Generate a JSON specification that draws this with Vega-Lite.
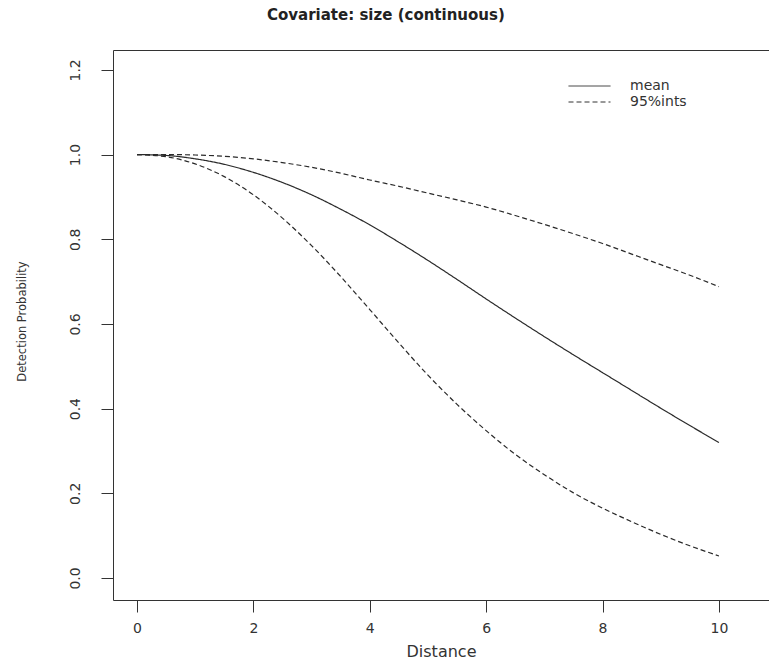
{
  "$schema": "https://vega.github.io/schema/vega-lite/v6.json",
  "autosize": "none",
  "width": 656,
  "height": 550,
  "padding": {"left": 113, "top": 50, "right": 0, "bottom": 64},
  "background": "white",
  "config": {
    "view": {"stroke": null},
    "font": "DejaVu Sans",
    "axis": {"grid": false, "domainColor": "#333", "tickColor": "#333", "labelColor": "#333", "titleColor": "#333", "labelFont": "DejaVu Sans", "titleFont": "DejaVu Sans", "titleFontWeight": "normal"}
  },
  "title": {"text": "Covariate: size (continuous)", "anchor": "start", "frame": "group", "dx": 154, "offset": 27, "fontSize": 15, "fontWeight": "bold", "font": "DejaVu Sans", "color": "#222"},
  "datasets": {
    "curves": [
      {"x": 0, "p": 1.0, "curve": "mean", "type": "mean"},
      {"x": 0.5, "p": 0.998, "curve": "mean", "type": "mean"},
      {"x": 1, "p": 0.99, "curve": "mean", "type": "mean"},
      {"x": 1.5, "p": 0.977, "curve": "mean", "type": "mean"},
      {"x": 2, "p": 0.958, "curve": "mean", "type": "mean"},
      {"x": 2.5, "p": 0.934, "curve": "mean", "type": "mean"},
      {"x": 3, "p": 0.905, "curve": "mean", "type": "mean"},
      {"x": 3.5, "p": 0.871, "curve": "mean", "type": "mean"},
      {"x": 4, "p": 0.834, "curve": "mean", "type": "mean"},
      {"x": 4.5, "p": 0.793, "curve": "mean", "type": "mean"},
      {"x": 5, "p": 0.75, "curve": "mean", "type": "mean"},
      {"x": 5.5, "p": 0.705, "curve": "mean", "type": "mean"},
      {"x": 6, "p": 0.659, "curve": "mean", "type": "mean"},
      {"x": 6.5, "p": 0.614, "curve": "mean", "type": "mean"},
      {"x": 7, "p": 0.57, "curve": "mean", "type": "mean"},
      {"x": 7.5, "p": 0.527, "curve": "mean", "type": "mean"},
      {"x": 8, "p": 0.485, "curve": "mean", "type": "mean"},
      {"x": 8.5, "p": 0.443, "curve": "mean", "type": "mean"},
      {"x": 9, "p": 0.401, "curve": "mean", "type": "mean"},
      {"x": 9.5, "p": 0.36, "curve": "mean", "type": "mean"},
      {"x": 10, "p": 0.32, "curve": "mean", "type": "mean"},
      {"x": 0, "p": 1.0, "curve": "upper", "type": "95%ints"},
      {"x": 0.5, "p": 1.0, "curve": "upper", "type": "95%ints"},
      {"x": 1, "p": 0.999, "curve": "upper", "type": "95%ints"},
      {"x": 1.5, "p": 0.996, "curve": "upper", "type": "95%ints"},
      {"x": 2, "p": 0.99, "curve": "upper", "type": "95%ints"},
      {"x": 2.5, "p": 0.981, "curve": "upper", "type": "95%ints"},
      {"x": 3, "p": 0.97, "curve": "upper", "type": "95%ints"},
      {"x": 3.5, "p": 0.956, "curve": "upper", "type": "95%ints"},
      {"x": 4, "p": 0.94, "curve": "upper", "type": "95%ints"},
      {"x": 4.5, "p": 0.925, "curve": "upper", "type": "95%ints"},
      {"x": 5, "p": 0.909, "curve": "upper", "type": "95%ints"},
      {"x": 5.5, "p": 0.893, "curve": "upper", "type": "95%ints"},
      {"x": 6, "p": 0.876, "curve": "upper", "type": "95%ints"},
      {"x": 6.5, "p": 0.856, "curve": "upper", "type": "95%ints"},
      {"x": 7, "p": 0.835, "curve": "upper", "type": "95%ints"},
      {"x": 7.5, "p": 0.813, "curve": "upper", "type": "95%ints"},
      {"x": 8, "p": 0.79, "curve": "upper", "type": "95%ints"},
      {"x": 8.5, "p": 0.765, "curve": "upper", "type": "95%ints"},
      {"x": 9, "p": 0.74, "curve": "upper", "type": "95%ints"},
      {"x": 9.5, "p": 0.715, "curve": "upper", "type": "95%ints"},
      {"x": 10, "p": 0.688, "curve": "upper", "type": "95%ints"},
      {"x": 0, "p": 1.0, "curve": "lower", "type": "95%ints"},
      {"x": 0.5, "p": 0.995, "curve": "lower", "type": "95%ints"},
      {"x": 1, "p": 0.978, "curve": "lower", "type": "95%ints"},
      {"x": 1.5, "p": 0.948, "curve": "lower", "type": "95%ints"},
      {"x": 2, "p": 0.905, "curve": "lower", "type": "95%ints"},
      {"x": 2.5, "p": 0.85, "curve": "lower", "type": "95%ints"},
      {"x": 3, "p": 0.785, "curve": "lower", "type": "95%ints"},
      {"x": 3.5, "p": 0.712, "curve": "lower", "type": "95%ints"},
      {"x": 4, "p": 0.634, "curve": "lower", "type": "95%ints"},
      {"x": 4.5, "p": 0.555, "curve": "lower", "type": "95%ints"},
      {"x": 5, "p": 0.479, "curve": "lower", "type": "95%ints"},
      {"x": 5.5, "p": 0.41, "curve": "lower", "type": "95%ints"},
      {"x": 6, "p": 0.348, "curve": "lower", "type": "95%ints"},
      {"x": 6.5, "p": 0.292, "curve": "lower", "type": "95%ints"},
      {"x": 7, "p": 0.244, "curve": "lower", "type": "95%ints"},
      {"x": 7.5, "p": 0.201, "curve": "lower", "type": "95%ints"},
      {"x": 8, "p": 0.165, "curve": "lower", "type": "95%ints"},
      {"x": 8.5, "p": 0.133, "curve": "lower", "type": "95%ints"},
      {"x": 9, "p": 0.103, "curve": "lower", "type": "95%ints"},
      {"x": 9.5, "p": 0.076, "curve": "lower", "type": "95%ints"},
      {"x": 10, "p": 0.052, "curve": "lower", "type": "95%ints"}
    ]
  },
  "data": {"name": "curves"},
  "resolve": {"axis": {"x": "independent"}},
  "layer": [
    {
      "mark": {"type": "line", "interpolate": "monotone", "color": "#2a2a2a", "strokeWidth": 1.2},
      "encoding": {
        "x": {"field": "x", "type": "quantitative", "scale": {"domain": [-0.412, 10.86], "nice": false, "zero": false},
          "axis": {"orient": "bottom", "values": [0, 2, 4, 6, 8, 10], "title": "Distance", "tickSize": 12, "labelPadding": 9, "labelFontSize": 14, "titleFontSize": 16, "titlePadding": 8, "labelFlush": false}},
        "y": {"field": "p", "type": "quantitative", "scale": {"domain": [-0.052, 1.247], "nice": false, "zero": false},
          "axis": {"values": [0, 0.2, 0.4, 0.6, 0.8, 1.0, 1.2], "format": ".1f", "title": "Detection Probability", "tickSize": 12, "labelAngle": -90, "labelAlign": "center", "labelBaseline": "bottom", "labelPadding": 19, "labelFontSize": 14, "titleFontSize": 11.5, "titleX": -86, "titleY": 271, "titleAngle": -90, "titleBaseline": "bottom", "titleAlign": "center"}},
        "detail": {"field": "curve"},
        "strokeDash": {"field": "type", "type": "nominal", "scale": {"domain": ["mean", "95%ints"], "range": [[1, 0], [5, 3]]},
          "legend": {"title": null, "orient": "none", "legendX": 455, "legendY": 28, "symbolType": "stroke", "symbolSize": 1764, "symbolStrokeColor": "#333", "symbolStrokeWidth": 1, "labelFontSize": 14, "labelFont": "DejaVu Sans", "labelColor": "#333", "labelOffset": 19, "rowPadding": 0, "clipHeight": 16}}
      }
    },
    {
      "mark": {"type": "line", "opacity": 0},
      "encoding": {
        "x": {"field": "x", "type": "quantitative", "axis": {"orient": "top", "labels": false, "ticks": false, "title": null, "domain": true}},
        "y": {"field": "p", "type": "quantitative"},
        "detail": {"field": "curve"}
      }
    }
  ]
}
